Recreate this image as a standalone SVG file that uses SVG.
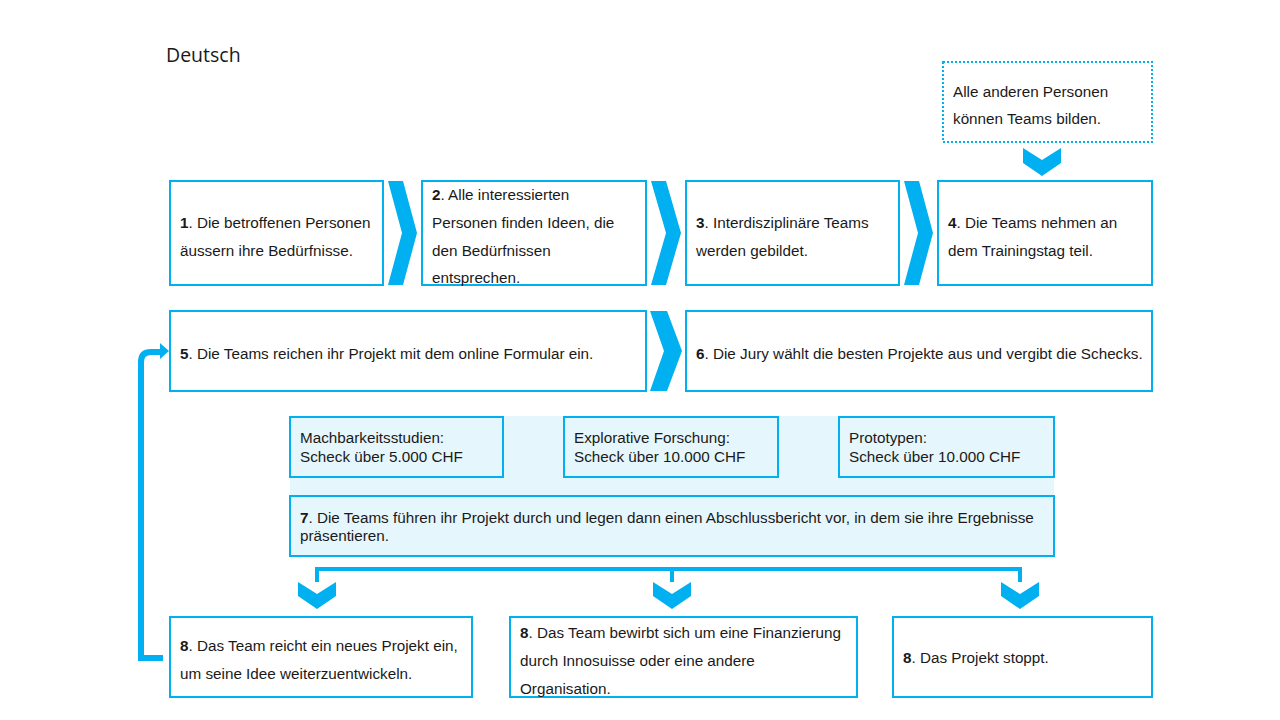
<svg xmlns="http://www.w3.org/2000/svg" width="1280" height="720" viewBox="0 0 1280 720">
<style>
.box{fill:#ffffff;stroke:#00b0f0;stroke-width:2}
.lbox{fill:#e6f6fd;stroke:#00b0f0;stroke-width:2}
.dot{fill:#ffffff;stroke:#00b0f0;stroke-width:2;stroke-dasharray:2 2}
.chev{fill:#00b0f0}
.t{font-family:"Liberation Sans",Arial,sans-serif;font-size:15.25px;fill:#1a1a1a}
.b{font-weight:bold}
.line{fill:none;stroke:#00b0f0;stroke-width:4}
</style>
<rect width="1280" height="720" fill="#ffffff"/>
<text x="166" y="62" style="font-family:'Open Sans','Liberation Sans',sans-serif;font-size:19.5px;fill:#1a1a1a">Deutsch</text>

<g id="band"><rect x="290" y="416" width="764" height="140" fill="#e6f6fd"/></g>

<g id="connectors">
<polygon class="chev" points="1023,148 1042,160 1061,148 1061,163 1042,176 1023,163"/>
<polygon class="chev" points="388,181 403,181 417,233 403,285 388,285 402,233"/>
<polygon class="chev" points="651,181 666,181 681,233 666,285 651,285 666,233"/>
<polygon class="chev" points="904,181 919,181 933,233 919,285 904,285 918,233"/>
<polygon class="chev" points="650,311 667,311 682,351 667,391 650,391 664,351"/>
<path class="line" d="M317,582 V569 H1020 V582 M672,569 V582"/>
<polygon class="chev" points="298,582 317,594 336,582 336,596 317,609 298,596"/>
<polygon class="chev" points="653,582 672,594 691,582 691,596 672,609 653,596"/>
<polygon class="chev" points="1001,582 1020,594 1039,582 1039,596 1020,609 1001,596"/>
<path d="M163,658 H141 V362 Q141,352 151,352 H161" fill="none" stroke="#00b0f0" stroke-width="6"/>
<polygon class="chev" points="160,343 169,351 160,359"/>
</g>

<g id="n0"><rect class="dot" x="943" y="62" width="209" height="80"/>
<text class="t" x="953" y="97">Alle anderen Personen</text><text class="t" x="953" y="124">können Teams bilden.</text></g>

<g id="n1"><rect class="box" x="170" y="181" width="213" height="104"/>
<text class="t" x="180" y="228"><tspan class="b">1</tspan>. Die betroffenen Personen</text><text class="t" x="180" y="256">äussern ihre Bedürfnisse.</text></g>

<g id="n2"><rect class="box" x="422" y="181" width="224" height="104"/>
<text class="t" x="432" y="200"><tspan class="b">2</tspan>. Alle interessierten</text><text class="t" x="432" y="228">Personen finden Ideen, die</text><text class="t" x="432" y="256">den Bedürfnissen</text><text class="t" x="432" y="283">entsprechen.</text></g>

<g id="n3"><rect class="box" x="686" y="181" width="213" height="104"/>
<text class="t" x="696" y="228"><tspan class="b">3</tspan>. Interdisziplinäre Teams</text><text class="t" x="696" y="256">werden gebildet.</text></g>

<g id="n4"><rect class="box" x="938" y="181" width="214" height="104"/>
<text class="t" x="948" y="228"><tspan class="b">4</tspan>. Die Teams nehmen an</text><text class="t" x="948" y="256">dem Trainingstag teil.</text></g>

<g id="n5"><rect class="box" x="170" y="311" width="476" height="80"/>
<text class="t" x="180" y="359"><tspan class="b">5</tspan>. Die Teams reichen ihr Projekt mit dem online Formular ein.</text></g>

<g id="n6"><rect class="box" x="686" y="311" width="466" height="80"/>
<text class="t" x="696" y="359"><tspan class="b">6</tspan>. Die Jury wählt die besten Projekte aus und vergibt die Schecks.</text></g>

<g id="s1"><rect class="lbox" x="290" y="417" width="213" height="60"/>
<text class="t" x="300" y="443">Machbarkeitsstudien:</text><text class="t" x="300" y="462">Scheck über 5.000 CHF</text></g>

<g id="s2"><rect class="lbox" x="564" y="417" width="214" height="60"/>
<text class="t" x="574" y="443">Explorative Forschung:</text><text class="t" x="574" y="462">Scheck über 10.000 CHF</text></g>

<g id="s3"><rect class="lbox" x="839" y="417" width="215" height="60"/>
<text class="t" x="849" y="443">Prototypen:</text><text class="t" x="849" y="462">Scheck über 10.000 CHF</text></g>

<g id="n7"><rect class="lbox" x="290" y="496" width="764" height="60"/>
<text class="t" x="300" y="523"><tspan class="b">7</tspan>. Die Teams führen ihr Projekt durch und legen dann einen Abschlussbericht vor, in dem sie ihre Ergebnisse</text><text class="t" x="300" y="541">präsentieren.</text></g>

<g id="n8a"><rect class="box" x="170" y="617" width="302" height="80"/>
<text class="t" x="180" y="651"><tspan class="b">8</tspan>. Das Team reicht ein neues Projekt ein,</text><text class="t" x="180" y="679">um seine Idee weiterzuentwickeln.</text></g>

<g id="n8b"><rect class="box" x="510" y="617" width="347" height="80"/>
<text class="t" x="520" y="638"><tspan class="b">8</tspan>. Das Team bewirbt sich um eine Finanzierung</text><text class="t" x="520" y="666">durch Innosuisse oder eine andere</text><text class="t" x="520" y="694">Organisation.</text></g>

<g id="n8c"><rect class="box" x="893" y="617" width="259" height="80"/>
<text class="t" x="903" y="663"><tspan class="b">8</tspan>. Das Projekt stoppt.</text></g>
</svg>
